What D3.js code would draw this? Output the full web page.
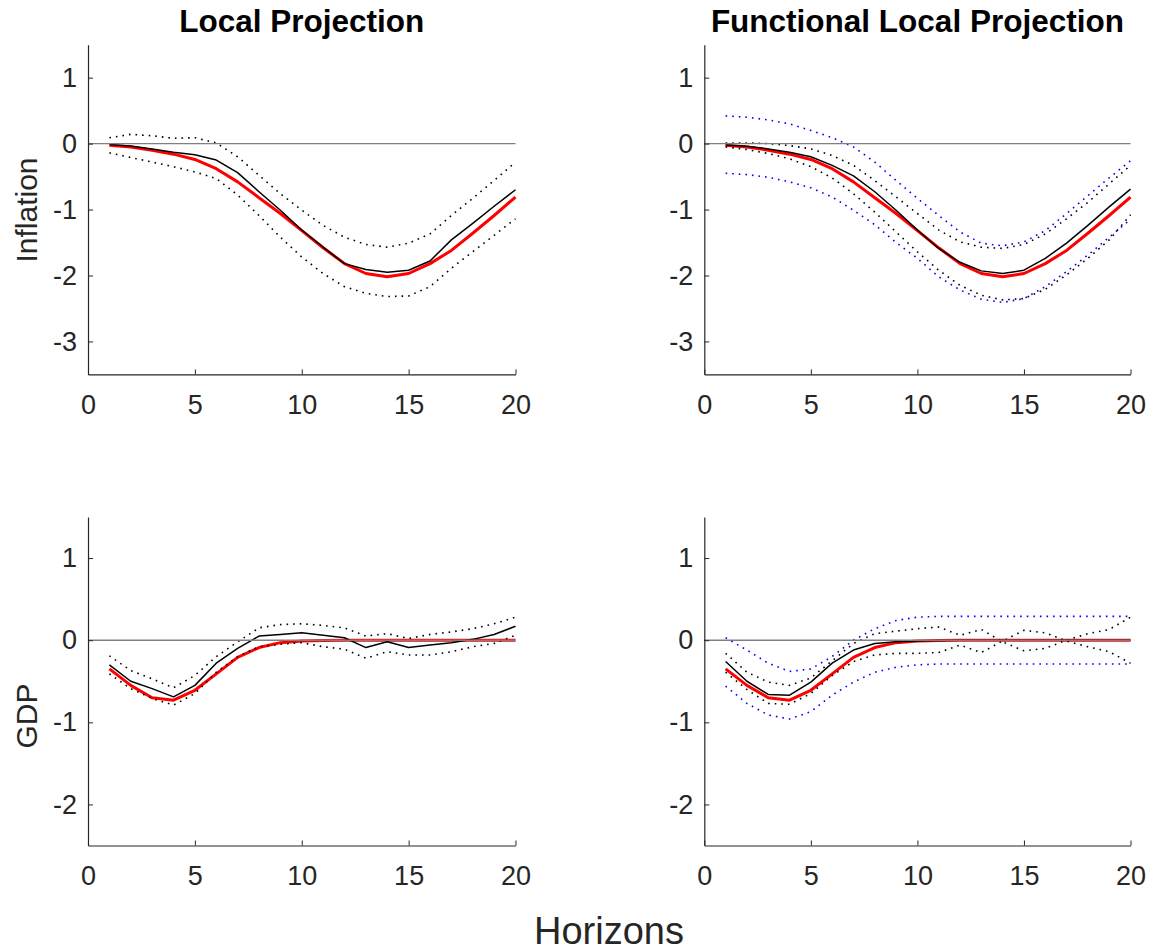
<!DOCTYPE html>
<html>
<head>
<meta charset="utf-8">
<script src="https://cdn.jsdelivr.net/npm/d3@7"></script>
<style>
  body { margin: 0; background: #fff; }
  text { font-family: "Liberation Sans", Arial, sans-serif; }
</style>
</head>
<body>
<div id="chart"></div>
<script>
//Horizons
var horizons = [1, 2, 3, 4, 5, 6, 7, 8, 9, 10, 11, 12, 13, 14, 15, 16, 17, 18, 19, 20];
var xTicks = [0, 5, 10, 15, 20];

//Inflation: true response (red) and estimates
var trueInfl = [-0.025, -0.05, -0.10, -0.16, -0.24, -0.38, -0.58, -0.82, -1.06, -1.32, -1.58, -1.82, -1.97, -2.02, -1.97, -1.82, -1.62, -1.36, -1.09, -0.81];
var lpInfl = [-0.015, -0.035, -0.08, -0.13, -0.17, -0.25, -0.44, -0.73, -1.01, -1.31, -1.57, -1.82, -1.91, -1.95, -1.92, -1.78, -1.46, -1.21, -0.95, -0.70];
var lpInflHi = [0.09, 0.14, 0.12, 0.08, 0.09, 0.01, -0.20, -0.48, -0.76, -1.01, -1.24, -1.42, -1.53, -1.57, -1.51, -1.37, -1.09, -0.83, -0.56, -0.28];
var lpInflLo = [-0.14, -0.21, -0.28, -0.35, -0.43, -0.53, -0.78, -1.09, -1.42, -1.72, -1.97, -2.17, -2.27, -2.32, -2.31, -2.17, -1.89, -1.64, -1.39, -1.14];
var flpInfl = [-0.02, -0.04, -0.08, -0.13, -0.20, -0.33, -0.49, -0.73, -1.01, -1.31, -1.59, -1.80, -1.93, -1.97, -1.92, -1.74, -1.51, -1.24, -0.96, -0.69];
var flpInflHi = [0.01, 0.01, 0.00, -0.03, -0.08, -0.18, -0.33, -0.56, -0.81, -1.06, -1.31, -1.49, -1.57, -1.59, -1.53, -1.37, -1.14, -0.89, -0.61, -0.33];
var flpInflLo = [-0.05, -0.09, -0.15, -0.23, -0.35, -0.52, -0.76, -1.04, -1.34, -1.64, -1.92, -2.15, -2.30, -2.37, -2.35, -2.21, -1.99, -1.74, -1.46, -1.08];
var flpInflBandHi = [0.42, 0.40, 0.36, 0.30, 0.20, 0.09, -0.05, -0.28, -0.56, -0.83, -1.09, -1.34, -1.51, -1.55, -1.49, -1.32, -1.06, -0.79, -0.52, -0.26];
var flpInflBandLo = [-0.45, -0.47, -0.51, -0.58, -0.67, -0.81, -1.01, -1.23, -1.50, -1.74, -2.02, -2.22, -2.36, -2.41, -2.35, -2.17, -1.94, -1.69, -1.42, -1.15];

//GDP: true response (red) and estimates
var trueGdp = [-0.35, -0.55, -0.70, -0.73, -0.61, -0.41, -0.21, -0.09, -0.03, -0.01, -0.005, 0, 0, 0, 0, 0, 0, 0, 0, 0];
var lpGdp = [-0.30, -0.50, -0.59, -0.69, -0.55, -0.28, -0.10, 0.05, 0.07, 0.09, 0.06, 0.03, -0.09, -0.02, -0.09, -0.06, -0.03, 0.01, 0.07, 0.17];
var lpGdpHi = [-0.19, -0.37, -0.47, -0.58, -0.43, -0.20, -0.02, 0.15, 0.19, 0.20, 0.18, 0.15, 0.05, 0.08, 0.02, 0.07, 0.10, 0.14, 0.20, 0.28];
var lpGdpLo = [-0.41, -0.59, -0.71, -0.79, -0.65, -0.39, -0.20, -0.08, -0.05, -0.03, -0.08, -0.11, -0.22, -0.14, -0.18, -0.18, -0.14, -0.08, -0.04, 0.06];
var flpGdp = [-0.26, -0.50, -0.66, -0.67, -0.51, -0.28, -0.12, -0.04, -0.02, -0.01, -0.005, 0, 0, 0, 0, 0, 0, 0, 0, 0];
var flpGdpHi = [-0.16, -0.39, -0.51, -0.55, -0.46, -0.25, -0.04, 0.08, 0.11, 0.14, 0.16, 0.06, 0.13, -0.02, -0.13, -0.10, 0.00, 0.08, 0.13, 0.28];
var flpGdpLo = [-0.39, -0.60, -0.77, -0.78, -0.65, -0.43, -0.26, -0.18, -0.16, -0.16, -0.15, -0.06, -0.15, -0.01, 0.12, 0.09, -0.01, -0.08, -0.14, -0.28];
var flpGdpBandHi = [0.03, -0.12, -0.28, -0.38, -0.35, -0.20, 0.00, 0.14, 0.24, 0.28, 0.29, 0.29, 0.29, 0.29, 0.29, 0.29, 0.29, 0.29, 0.29, 0.29];
var flpGdpBandLo = [-0.56, -0.77, -0.91, -0.96, -0.87, -0.67, -0.51, -0.39, -0.33, -0.30, -0.29, -0.29, -0.29, -0.29, -0.29, -0.29, -0.29, -0.29, -0.29, -0.29];

//Sizes and colors
var width = 1151, height = 952;
var colX = [[88, 515.5], [704.3, 1130.5]];
var rowY = [[44.7, 374.4], [517, 845.5]];
var rowDomain = [[-3.5, 1.5], [-2.5, 1.5]];
var rowTicks = [[1, 0, -1, -2, -3], [1, 0, -1, -2]];
var ylabelY = [210, 716];
var axisColor = "#262626";
var zeroColor = "#808080";
var dotted = "1.6,5";

var panels = [
  {row: 0, col: 0, title: "Local Projection", ylabel: "Inflation",
   lines: [{d: trueInfl, c: "#ff0000", w: 3}, {d: lpInfl, c: "#000", w: 1.5},
           {d: lpInflHi, c: "#000", w: 1.6, dash: dotted}, {d: lpInflLo, c: "#000", w: 1.6, dash: dotted}]},
  {row: 0, col: 1, title: "Functional Local Projection",
   lines: [{d: trueInfl, c: "#ff0000", w: 3}, {d: flpInfl, c: "#000", w: 1.5},
           {d: flpInflHi, c: "#000", w: 1.6, dash: dotted}, {d: flpInflLo, c: "#000", w: 1.6, dash: dotted},
           {d: flpInflBandHi, c: "#0000ff", w: 1.6, dash: dotted}, {d: flpInflBandLo, c: "#0000ff", w: 1.6, dash: dotted}]},
  {row: 1, col: 0, ylabel: "GDP",
   lines: [{d: trueGdp, c: "#ff0000", w: 3}, {d: lpGdp, c: "#000", w: 1.5},
           {d: lpGdpHi, c: "#000", w: 1.6, dash: dotted}, {d: lpGdpLo, c: "#000", w: 1.6, dash: dotted}]},
  {row: 1, col: 1,
   lines: [{d: trueGdp, c: "#ff0000", w: 3}, {d: flpGdp, c: "#000", w: 1.5},
           {d: flpGdpHi, c: "#000", w: 1.6, dash: dotted}, {d: flpGdpLo, c: "#000", w: 1.6, dash: dotted},
           {d: flpGdpBandHi, c: "#0000ff", w: 1.6, dash: dotted}, {d: flpGdpBandLo, c: "#0000ff", w: 1.6, dash: dotted}]}
];

var svg = d3.select("#chart").append("svg")
    .attr("width", width)
    .attr("height", height);

panels.forEach(function (p) {
    var x = d3.scaleLinear().domain([0, 20]).range(colX[p.col]);
    var y = d3.scaleLinear().domain(rowDomain[p.row]).range([rowY[p.row][1], rowY[p.row][0]]);
    var g = svg.append("g");

    //Lines
    var line = d3.line()
        .x(function (d, i) { return x(horizons[i]); })
        .y(function (d) { return y(d); });
    p.lines.forEach(function (l) {
        g.append("path")
            .attr("d", line(l.d))
            .attr("fill", "none")
            .attr("stroke", l.c)
            .attr("stroke-width", l.w)
            .attr("stroke-dasharray", l.dash || null)
            .attr("stroke-linejoin", "round");
    });

    //Zero line
    g.append("line")
        .attr("x1", x(0)).attr("x2", x(20))
        .attr("y1", y(0)).attr("y2", y(0))
        .attr("stroke", zeroColor)
        .attr("stroke-width", 1.4);

    //Axes
    var xAxis = g.append("g")
        .attr("transform", "translate(0," + y.range()[0] + ")")
        .call(d3.axisBottom(x).tickValues(xTicks).tickSizeInner(-5).tickSizeOuter(0).tickPadding(20));
    var yAxis = g.append("g")
        .attr("transform", "translate(" + x.range()[0] + ",0)")
        .call(d3.axisLeft(y).tickValues(rowTicks[p.row]).tickFormat(d3.format("d")).tickSizeInner(-5).tickSizeOuter(0).tickPadding(11));
    [xAxis, yAxis].forEach(function (a) {
        a.select(".domain").attr("stroke", axisColor).attr("stroke-width", 1.2);
        a.selectAll(".tick line").attr("stroke", axisColor).attr("stroke-width", 1);
        a.selectAll(".tick text")
            .attr("fill", axisColor)
            .style("font-size", "27px")
            .style("font-family", "'Liberation Sans', Arial, sans-serif");
    });
    yAxis.selectAll(".tick text").text(function (d) { return d < 0 ? "-" + Math.abs(d) : d; });

    //Title
    if (p.title) {
        g.append("text")
            .attr("x", (x.range()[0] + x.range()[1]) / 2)
            .attr("y", 32)
            .attr("text-anchor", "middle")
            .style("font-size", "31.5px")
            .style("font-weight", "bold")
            .text(p.title);
    }

    //Y label
    if (p.ylabel) {
        g.append("text")
            .attr("transform", "translate(37," + ylabelY[p.row] + ") rotate(-90)")
            .attr("text-anchor", "middle")
            .attr("fill", axisColor)
            .style("font-size", "30px")
            .text(p.ylabel);
    }
});

//Common x label
svg.append("text")
    .attr("x", 609)
    .attr("y", 944)
    .attr("text-anchor", "middle")
    .attr("fill", axisColor)
    .style("font-size", "38px")
    .text("Horizons");
</script>
</body>
</html>
